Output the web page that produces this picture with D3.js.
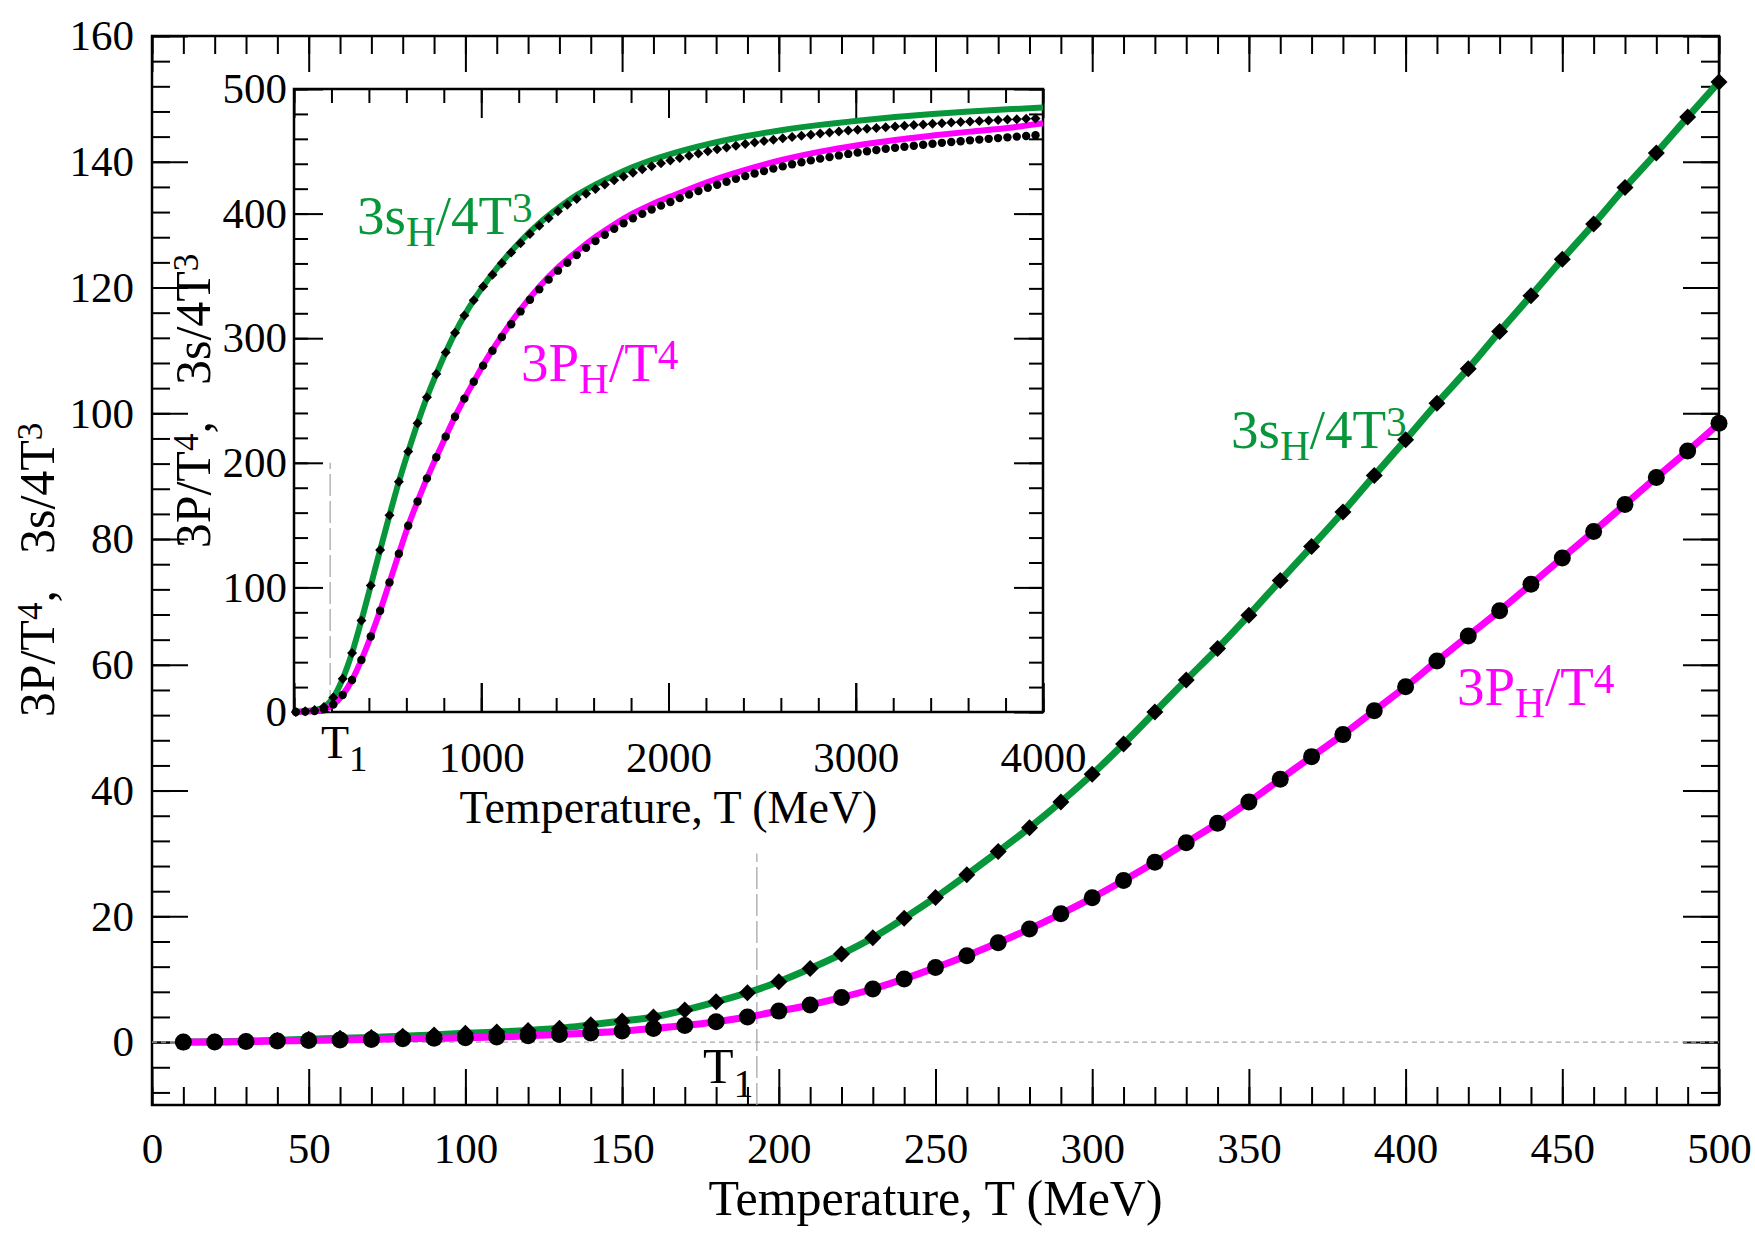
<!DOCTYPE html>
<html>
<head>
<meta charset="utf-8">
<script src="https://cdn.jsdelivr.net/npm/d3@7"></script>
<style>
  body { margin: 0; background: #fff; }
  svg { display: block; font-family: "Liberation Serif", "Times New Roman", serif; }
</style>
</head>
<body>
<svg width="1755" height="1240"></svg>
<script>
// main panel, T = 10..500 MeV
var temps = [10,20,30,40,50,60,70,80,90,100,
             110,120,130,140,150,160,170,180,190,200,
             210,220,230,240,250,260,270,280,290,300,
             310,320,330,340,350,360,370,380,390,400,
             410,420,430,440,450,460,470,480,490,500];
var entropyMain = [0.0,0.05,0.15,0.3,0.45,0.6,0.75,0.95,1.15,1.4,
                   1.6,1.85,2.2,2.75,3.35,4.0,5.1,6.4,7.85,9.6,
                   11.7,14.0,16.6,19.7,23.0,26.6,30.3,34.1,38.2,42.6,
                   47.4,52.5,57.6,62.6,67.9,73.4,78.8,84.3,90.1,95.8,
                   101.6,107.1,113.0,118.7,124.5,130.1,135.9,141.4,147.1,152.7];
var pressureMain = [0.0,0.02,0.08,0.16,0.25,0.34,0.43,0.52,0.6,0.69,
                    0.8,1.0,1.22,1.45,1.75,2.17,2.65,3.25,4.0,4.93,
                    5.9,7.1,8.45,10.05,11.85,13.75,15.8,18.0,20.4,22.95,
                    25.7,28.6,31.7,34.8,38.2,41.8,45.4,48.9,52.7,56.5,
                    60.6,64.6,68.6,72.8,77.0,81.2,85.5,89.8,94.0,98.4];

// inset markers, T = 10..3960 MeV
var insetTemps = [10,60,110,160,210,260,310,360,410,460,
                  510,560,610,660,710,760,810,860,910,960,
                  1010,1060,1110,1160,1210,1260,1310,1360,1410,1460,
                  1510,1560,1610,1660,1710,1760,1810,1860,1910,1960,
                  2010,2060,2110,2160,2210,2260,2310,2360,2410,2460,
                  2510,2560,2610,2660,2710,2760,2810,2860,2910,2960,
                  3010,3060,3110,3160,3210,3260,3310,3360,3410,3460,
                  3510,3560,3610,3660,3710,3760,3810,3860,3910,3960];
var insetEntropyPts = [0.0,0.6,1.6,4.0,11.7,26.6,47.4,73.4,101.6,130.1,
                       158,184.8,209,231.8,252.7,271.2,288.5,304.3,318.2,330.5,
                       341.4,351,360.2,368.8,376.3,383.6,390.2,396.3,401.8,407.2,
                       411.8,416,419.8,423.3,426.7,429.8,432.8,435.6,438.1,440.4,
                       442.6,444.6,446.5,448.3,450.0,451.6,453.1,454.5,455.8,457.0,
                       458.2,459.3,460.4,461.4,462.4,463.3,464.2,465.0,465.8,466.6,
                       467.3,468.0,468.7,469.3,469.9,470.5,471.1,471.6,472.1,472.6,
                       473.1,473.5,473.9,474.3,474.7,475.1,475.5,475.8,476.1,476.4];
var insetPressurePts = [0.0,0.34,0.8,2.17,5.9,13.7,25.7,41.8,60.6,81.2,
                        104,127,149.5,169,187.5,204.5,221,237,251.5,265,
                        278,290,301,311.2,321.5,330.8,339.2,347,354.2,360.5,
                        366.7,372.5,378,383,387.8,392.2,396.3,399.8,403.3,406.4,
                        409.3,412.4,415.3,418.1,420.7,423.2,425.6,427.9,430.1,432.2,
                        434.2,436.1,437.9,439.6,441.2,442.7,444.1,445.4,446.7,447.9,
                        449.0,450.0,451.0,452.0,452.9,453.7,454.5,455.3,456.0,456.8,
                        457.5,458.1,458.8,459.4,460.0,460.6,461.2,461.8,462.3,462.9];

// inset curves (hadron gas)
var insetLineTemps = [10,60,110,160,210,260,310,360,410,460,
                      510,560,610,660,710,760,810,860,910,960,
                      1010,1110,1210,1310,1410,1510,1610,1710,1810,1910,
                      2010,2210,2410,2610,2810,3010,3210,3410,3610,3810,4000];
var insetEntropyLine = [0.0,0.6,1.6,4.0,11.7,26.6,47.4,73.4,101.6,130.1,
                        158,184.8,209,231.8,252.7,271.2,288.5,304.3,318.2,330.5,
                        341.6,361.0,377.8,392.2,404.3,414.8,423.3,430.7,437.3,443.0,
                        447.8,455.8,462.1,467.1,471.2,474.6,477.5,479.9,481.9,483.7,485.1];
var insetPressureLine = [0.0,0.34,0.8,2.17,5.9,13.7,25.7,41.8,60.6,81.2,
                         104,127,149.5,169,187.5,204.5,221,237,251.5,265,
                         278.5,302.0,323.0,341.2,356.7,369.6,381.2,391.3,400.1,407.4,
                         413.6,425.4,435.1,443.2,449.7,454.9,459.1,462.6,465.8,468.7,472.5];

var mainXTicks = [0,50,100,150,200,250,300,350,400,450,500];
var mainYTicks = [0,20,40,60,80,100,120,140,160];
var insetXTicks = [1000,2000,3000,4000];
var insetYTicks = [0,100,200,300,400,500];
var T1 = 193;

var green = "#08963a",
    magenta = "#ff00ff",
    dashGrey = "#a8a8a8";

var svg = d3.select("svg");

// ---------- helpers ----------
function frame(g, xs, ys, o) {
  var w = xs.range()[1], h = ys.range()[0];
  var sides = [
    {ax: d3.axisBottom, tr: "translate(0," + h + ")", s: xs, minor: o.xMinor, major: o.xMajor, lab: o.xLabels},
    {ax: d3.axisTop, tr: null, s: xs, minor: o.xMinor, major: o.xMajor},
    {ax: d3.axisLeft, tr: null, s: ys, minor: o.yMinor, major: o.yMajor, lab: o.yLabels},
    {ax: d3.axisRight, tr: "translate(" + w + ",0)", s: ys, minor: o.yMinor, major: o.yMajor}
  ];
  sides.forEach(function(sd) {
    var gm = g.append("g").attr("transform", sd.tr)
      .call(sd.ax(sd.s).tickValues(sd.minor).tickSize(-o.minorLen).tickSizeOuter(0).tickFormat(""));
    var gM = g.append("g").attr("transform", sd.tr)
      .call(sd.ax(sd.s).tickValues(sd.lab ? sd.lab : sd.major).tickSize(-o.majorLen).tickSizeOuter(0)
        .tickPadding(sd.ax === d3.axisBottom ? o.xPad : o.yPad)
        .tickFormat(sd.lab ? d3.format("d") : ""));
    [gm, gM].forEach(function(a) {
      a.select(".domain").remove();
      a.selectAll("line").attr("stroke", "#000").attr("stroke-width", 2);
      a.attr("font-family", null).attr("font-size", o.font);
      a.selectAll("text").attr("fill", "#000");
    });
    if (sd.lab && sd.ax === d3.axisBottom && sd.lab !== sd.major) {
      // labelled subset: add unlabelled major ticks too
      g.append("g").attr("transform", sd.tr)
        .call(sd.ax(sd.s).tickValues(sd.major).tickSize(-o.majorLen).tickSizeOuter(0).tickFormat(""))
        .call(function(a) { a.select(".domain").remove(); a.selectAll("line").attr("stroke", "#000").attr("stroke-width", 2); });
    }
  });
  g.append("rect")
    .attr("width", w).attr("height", h)
    .attr("fill", "none").attr("stroke", "#000").attr("stroke-width", 2.5);
}

// text with sub/superscripts
function rich(parent, x, y, parts, size, color, o) {
  o = o || {};
  var t = parent.append("text")
    .attr("x", x).attr("y", y)
    .attr("font-size", size)
    .attr("fill", color)
    .attr("text-anchor", o.anchor || "start");
  if (o.rotate) t.attr("transform", "rotate(" + o.rotate + "," + x + "," + y + ")");
  var cur = 0, ratio = o.ratio || 0.75, shift = o.shift || 12;
  parts.forEach(function(p) {
    var target = p.sub ? shift : (p.sup ? -shift : 0);
    var ts = t.append("tspan").text(p.t).attr("dy", target - cur);
    if (p.sub || p.sup) ts.attr("font-size", size * ratio);
    if (p.dx) ts.attr("dx", p.dx);
    cur = target;
  });
  return t;
}

function diamondPath(r) {
  return "M0," + (-r) + "L" + r + ",0L0," + r + "L" + (-r) + ",0Z";
}

// ---------- main panel ----------
var margin = {top: 36, right: 36, bottom: 135, left: 152};
var width = 1755 - margin.left - margin.right,
    height = 1240 - margin.top - margin.bottom;

var x = d3.scaleLinear().domain([0, 500]).range([0, width]);
var y = d3.scaleLinear().domain([-10, 160]).range([height, 0]);

var main = svg.append("g").attr("transform", "translate(" + margin.left + "," + margin.top + ")");

frame(main, x, y, {
  xMinor: x.ticks(50), xMajor: mainXTicks, xLabels: mainXTicks,
  yMinor: d3.range(-8, 161, 4), yMajor: mainYTicks, yLabels: mainYTicks,
  minorLen: 18, majorLen: 36, font: 43, xPad: 27, yPad: 18
});

// reference lines
main.append("line")
  .attr("x1", x(0)).attr("x2", x(500)).attr("y1", y(0)).attr("y2", y(0))
  .attr("stroke", dashGrey).attr("stroke-width", 1.3).attr("stroke-dasharray", "5,4");
main.append("line")
  .attr("x1", x(T1)).attr("x2", x(T1)).attr("y1", y(-10)).attr("y2", y(30))
  .attr("stroke", dashGrey).attr("stroke-width", 1.3).attr("stroke-dasharray", "22,5");

var mainLine = function(vals) {
  return d3.line()
    .x(function(d, i) { return x(temps[i]); })
    .y(function(d) { return y(d); })
    .curve(d3.curveMonotoneX)(vals);
};

main.append("path").attr("d", mainLine(entropyMain))
  .attr("fill", "none").attr("stroke", green).attr("stroke-width", 7);
main.append("path").attr("d", mainLine(pressureMain))
  .attr("fill", "none").attr("stroke", magenta).attr("stroke-width", 7);

main.selectAll(".dmain").data(entropyMain).enter().append("path")
  .attr("class", "dmain")
  .attr("transform", function(d, i) { return "translate(" + x(temps[i]) + "," + y(d) + ")"; })
  .attr("d", diamondPath(8.5)).attr("fill", "#000");
main.selectAll(".cmain").data(pressureMain).enter().append("circle")
  .attr("class", "cmain")
  .attr("cx", function(d, i) { return x(temps[i]); })
  .attr("cy", function(d) { return y(d); })
  .attr("r", 8.5).attr("fill", "#000");

// axis titles
svg.append("text")
  .attr("x", margin.left + width / 2).attr("y", 1215)
  .attr("text-anchor", "middle").attr("font-size", 50)
  .text("Temperature, T (MeV)");
rich(svg, 54, 570, [{t: "3P/T"}, {t: "4", sup: true}, {t: ","}, {t: "3s/4T", dx: 36}, {t: "3", sup: true}],
  50, "#000", {anchor: "middle", rotate: -90, ratio: 0.7, shift: 12});

// curve labels
rich(svg, 1231, 448, [{t: "3s"}, {t: "H", sub: true}, {t: "/4T"}, {t: "3", sup: true}], 55, green);
rich(svg, 1457, 705, [{t: "3P"}, {t: "H", sub: true}, {t: "/T"}, {t: "4", sup: true}], 55, magenta);
rich(svg, 703, 1083, [{t: "T"}, {t: "1", sub: true}], 50, "#000", {ratio: 0.8, shift: 14});

// ---------- inset ----------
var inset = {left: 294, top: 89, w: 749, h: 623};
var xi = d3.scaleLinear().domain([0, 4000]).range([0, inset.w]);
var yi = d3.scaleLinear().domain([0, 500]).range([inset.h, 0]);

var ins = svg.append("g").attr("transform", "translate(" + inset.left + "," + inset.top + ")");
ins.append("rect").attr("width", inset.w).attr("height", inset.h).attr("fill", "#fff");

frame(ins, xi, yi, {
  xMinor: d3.range(0, 4001, 200), xMajor: [0].concat(insetXTicks), xLabels: insetXTicks,
  yMinor: d3.range(0, 501, 20), yMajor: insetYTicks, yLabels: insetYTicks,
  minorLen: 14, majorLen: 29, font: 43, xPad: 29, yPad: 7
});

ins.append("line")
  .attr("x1", xi(T1)).attr("x2", xi(T1)).attr("y1", yi(0)).attr("y2", yi(200))
  .attr("stroke", dashGrey).attr("stroke-width", 1.3).attr("stroke-dasharray", "22,5");

var insetLine = function(vals) {
  return d3.line()
    .x(function(d, i) { return xi(insetLineTemps[i]); })
    .y(function(d) { return yi(d); })
    .curve(d3.curveMonotoneX)(vals);
};
ins.append("path").attr("d", insetLine(insetEntropyLine))
  .attr("fill", "none").attr("stroke", green).attr("stroke-width", 6);
ins.append("path").attr("d", insetLine(insetPressureLine))
  .attr("fill", "none").attr("stroke", magenta).attr("stroke-width", 6);

ins.selectAll(".dins").data(insetEntropyPts).enter().append("path")
  .attr("class", "dins")
  .attr("transform", function(d, i) { return "translate(" + xi(insetTemps[i]) + "," + yi(d) + ")"; })
  .attr("d", diamondPath(5)).attr("fill", "#000");
ins.selectAll(".cins").data(insetPressurePts).enter().append("circle")
  .attr("class", "cins")
  .attr("cx", function(d, i) { return xi(insetTemps[i]); })
  .attr("cy", function(d) { return yi(d); })
  .attr("r", 4.2).attr("fill", "#000");

svg.append("text")
  .attr("x", inset.left + inset.w / 2).attr("y", 823)
  .attr("text-anchor", "middle").attr("font-size", 46)
  .text("Temperature, T (MeV)");
rich(svg, 210, 401, [{t: "3P/T"}, {t: "4", sup: true}, {t: ","}, {t: "3s/4T", dx: 36}, {t: "3", sup: true}],
  50, "#000", {anchor: "middle", rotate: -90, ratio: 0.7, shift: 12});

rich(svg, 357, 234, [{t: "3s"}, {t: "H", sub: true}, {t: "/4T"}, {t: "3", sup: true}], 55, green);
rich(svg, 521, 381, [{t: "3P"}, {t: "H", sub: true}, {t: "/T"}, {t: "4", sup: true}], 55, magenta);
rich(svg, 321, 758, [{t: "T"}, {t: "1", sub: true}], 46, "#000", {ratio: 0.8, shift: 13});
</script>
</body>
</html>
